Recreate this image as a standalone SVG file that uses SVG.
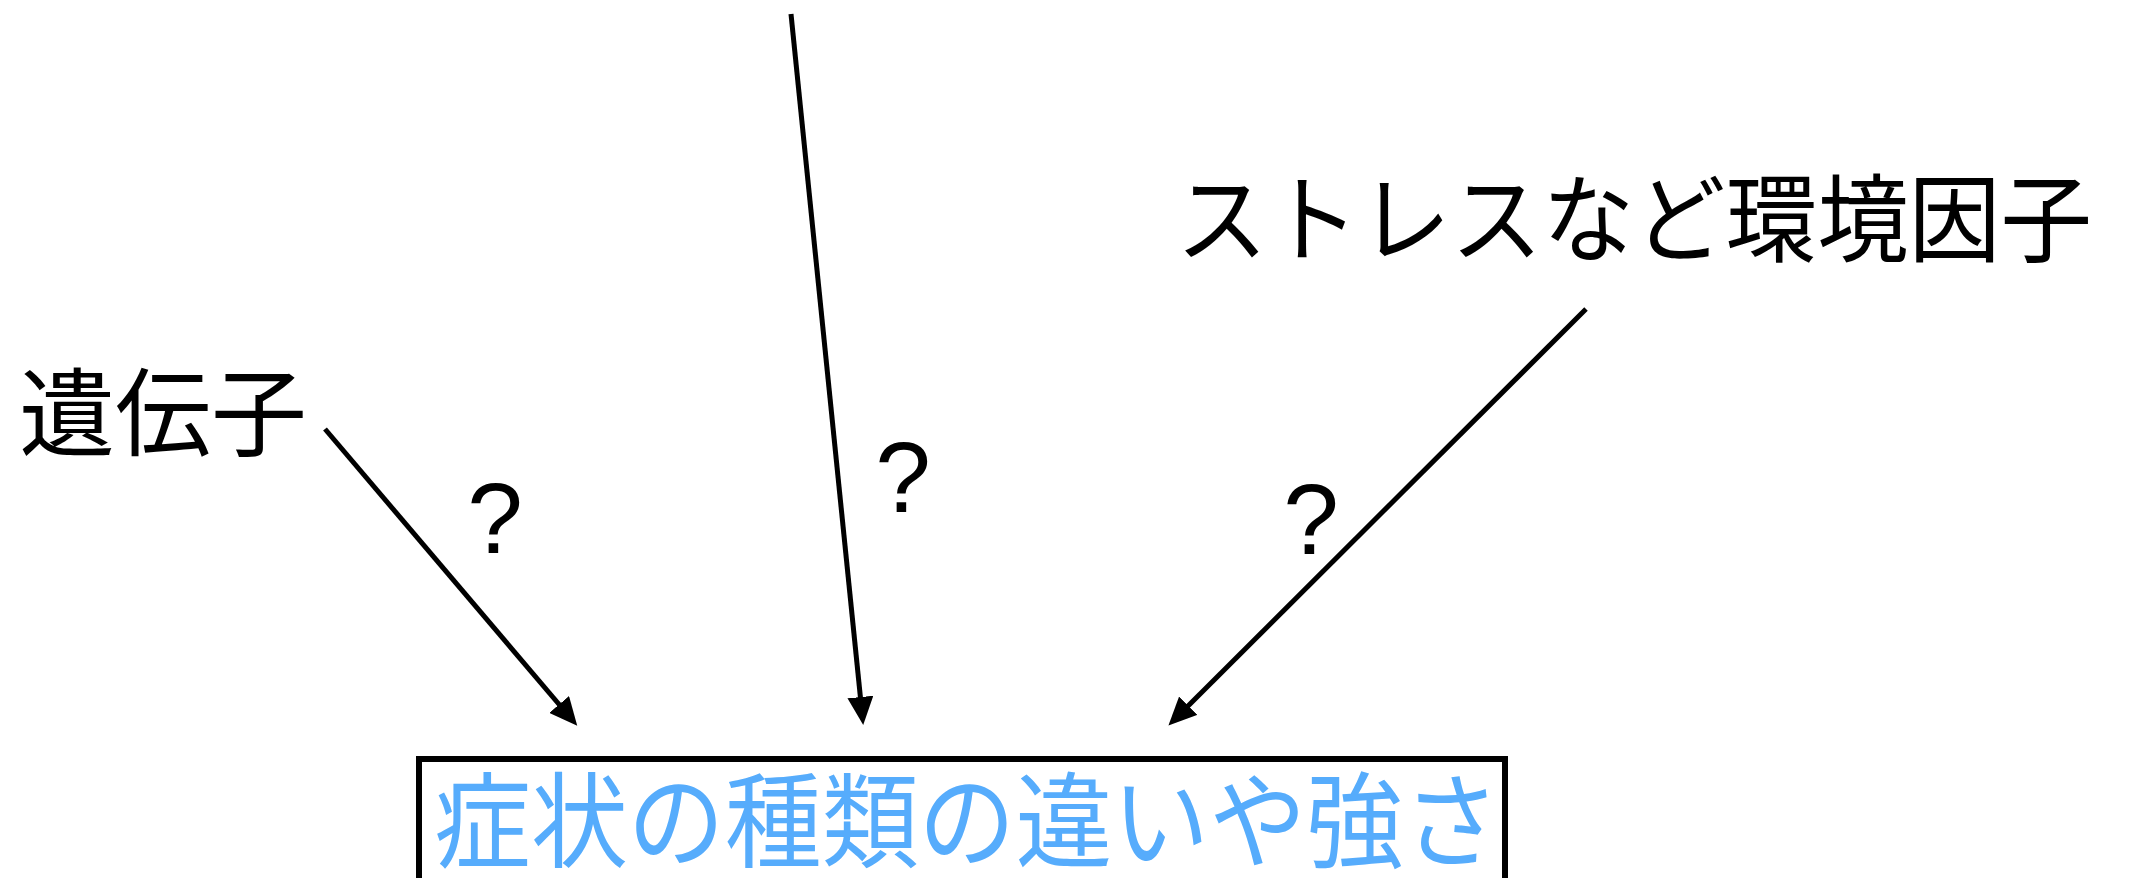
<svg xmlns="http://www.w3.org/2000/svg" width="2156" height="878" viewBox="0 0 2156 878">
<style>
.jp{font-family:"Noto Sans CJK JP","Noto Sans CJK SC",sans-serif;fill:#000}
.q{font-family:"Liberation Sans",Arial,sans-serif;font-size:100px;fill:#000;text-anchor:middle}
.conn{stroke:#000;stroke-width:5;fill:none;marker-end:url(#ah)}
</style>
<defs>
<marker id="ah" markerUnits="userSpaceOnUse" markerWidth="28" markerHeight="26" refX="6" refY="13" orient="auto">
<path d="M0,0 L28,13 L0,26 z" fill="#000"/>
</marker>
</defs>
<rect width="2156" height="878" fill="#fff"/>
<g id="connectors">
<line class="conn" x1="325" y1="429" x2="563" y2="709"/>
<line class="conn" x1="791" y1="14" x2="861" y2="703"/>
<line class="conn" x1="1586" y1="309" x2="1184" y2="710"/>
</g>
<g id="labels">
<text class="q" x="495" y="553">?</text>
<text class="q" x="903" y="512">?</text>
<text class="q" x="1311" y="554">?</text>
</g>
<g id="node-gene">
<text class="jp" x="19" y="448" font-size="96">遺伝子</text>
</g>
<g id="node-env">
<text class="jp" x="1176" y="254" font-size="96" textLength="916" lengthAdjust="spacingAndGlyphs">ストレスなど環境因子</text>
</g>
<g id="node-symptom">
<rect x="419" y="759" width="1086" height="140" fill="#fff" stroke="#000" stroke-width="6"/>
<text x="434" y="860" font-size="104" textLength="1066" lengthAdjust="spacingAndGlyphs" style="font-family:'Noto Sans CJK JP','Noto Sans CJK SC',sans-serif;fill:#56acfc">症状の種類の違いや強さ</text>
</g>
</svg>
